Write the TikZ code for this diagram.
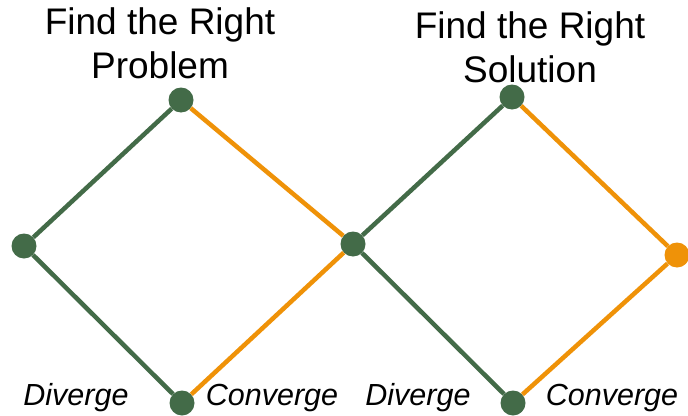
\documentclass[tikz,border=0pt]{standalone}
\usepackage{fontspec}
\setmainfont{Liberation Sans}
\definecolor{dgreen}{HTML}{436B48}
\definecolor{dorange}{HTML}{EF9208}
\begin{document}
\begin{tikzpicture}[x=1pt,y=-1pt,
  dotg/.style={circle,fill=dgreen,inner sep=0pt,minimum size=25pt},
  doto/.style={circle,fill=dorange,inner sep=0pt,minimum size=25pt},
  lg/.style={draw=dgreen,line width=4.5pt},
  lo/.style={draw=dorange,line width=4.5pt},
  title/.style={anchor=base,inner sep=0pt,font=\fontsize{37}{44}\selectfont},
  lab/.style={anchor=base,inner sep=0pt,font=\fontsize{30.5}{36}\selectfont\itshape}]
\clip (0,0) rectangle (688,415);
\useasboundingbox (0,0) rectangle (688,415);
\fill[white] (0,0) rectangle (688,415);
\node[dotg] (l) at (24,246) {};
\node[dotg] (t1) at (181,100) {};
\node[dotg] (b1) at (182,403) {};
\node[dotg] (m) at (353,244) {};
\node[dotg] (t2) at (512,97) {};
\node[dotg] (b2) at (513,403) {};
\node[doto] (r) at (677,255) {};
\draw[lg] (l) -- (t1);
\draw[lg] (l) -- (b1);
\draw[lo] (t1) -- (m);
\draw[lo] (b1) -- (m);
\draw[lg] (m) -- (t2);
\draw[lg] (m) -- (b2);
\draw[lo] (t2) -- (r);
\draw[lo] (b2) -- (r);
\node[title] (p1) at (160,34) {Find the Right};
\node[title] (p2) at (160,78) {Problem};
\node[title] (s1) at (530,38) {Find the Right};
\node[title] (s2) at (530,82) {Solution};
\node[lab] (d1) at (76,405) {Diverge};
\node[lab] (c1) at (272,405) {Converge};
\node[lab] (d2) at (418,405) {Diverge};
\node[lab] (c2) at (612,405) {Converge};
\end{tikzpicture}
\end{document}
